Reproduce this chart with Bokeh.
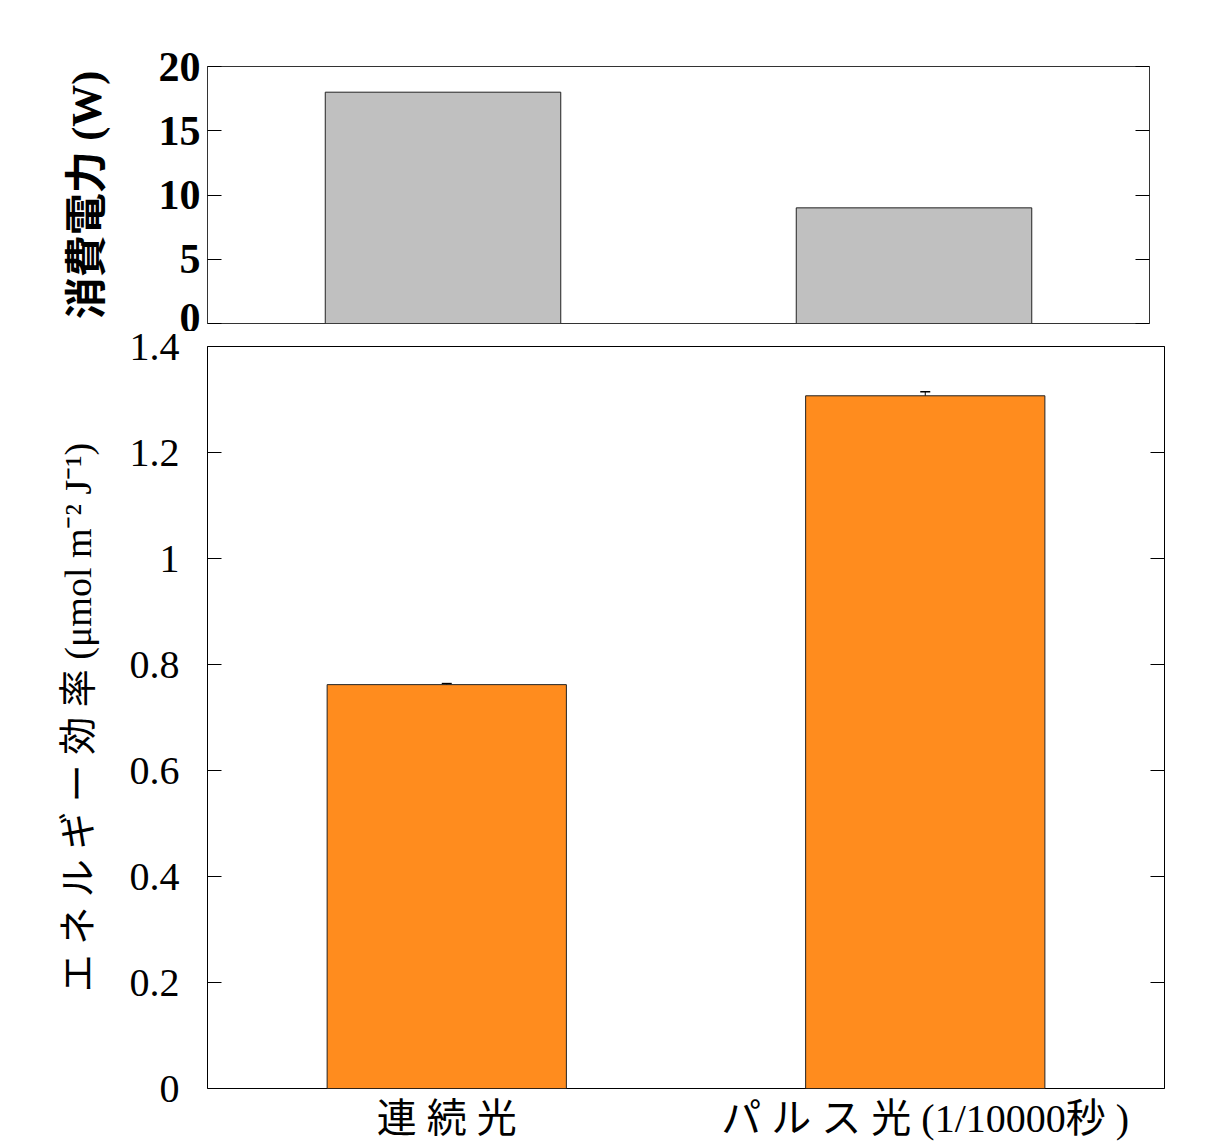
from bokeh.plotting import figure
from bokeh.models import (ColumnDataSource, FactorRange, Range1d, LinearAxis, FixedTicker,
                          Whisker, TeeHead, CustomLabelingPolicy)
from bokeh.layouts import column
from bokeh.embed import file_html
from bokeh.resources import INLINE

# ---- data ----
categories = ["連 続 光", "パ ル ス 光 (1/10000秒 )"]
power_w = [18, 9]
efficiency = [0.762, 1.307]
efficiency_err = [0.002, 0.0075]
power_ticks = [0, 5, 10, 15, 20]
eff_ticks = [0, 0.2, 0.4, 0.6, 0.8, 1.0, 1.2, 1.4]

SERIF = "Liberation Serif"
MIXED = "Liberation Serif, Noto Sans CJK JP"

no_labels = CustomLabelingPolicy(code="return new Set()")

# ---- top chart: power consumption ----
top = figure(x_range=FactorRange(*categories), y_range=Range1d(0, 20),
             width=1168, height=331, output_backend="svg", toolbar_location=None,
             min_border_left=203, min_border_right=19, min_border_top=66, min_border_bottom=8)
top.vbar(x=categories, top=power_w, width=0.5, fill_color="#C0C0C0", line_color="#222222", line_width=1)
top.xaxis.visible = False
top.grid.visible = False
top.outline_line_color = "#333333"
top.outline_line_width = 1
ya = top.yaxis[0]
ya.ticker = FixedTicker(ticks=power_ticks)
ya.minor_tick_line_color = None
ya.major_tick_in = 14
ya.major_tick_out = 0
ya.axis_line_color = None
ya.major_label_text_font = SERIF
ya.major_label_text_font_style = "bold"
ya.major_label_text_font_size = "42px"
ya.major_label_text_color = "black"
ya.major_label_standoff = 7
ya.axis_label = "消費電力 (W)"
ya.axis_label_text_font = MIXED
ya.axis_label_text_font_style = "bold"
ya.axis_label_text_font_size = "42px"
ya.axis_label_text_color = "black"
ya.axis_label_standoff = 46
ra = LinearAxis(ticker=FixedTicker(ticks=power_ticks), major_tick_in=14, major_tick_out=0,
                minor_tick_line_color=None, axis_line_color=None,
                major_label_policy=no_labels, major_label_standoff=0)
top.add_layout(ra, "right")

# ---- bottom chart: energy efficiency ----
src = ColumnDataSource(data=dict(
    x=categories, top=efficiency,
    upper=[v + e for v, e in zip(efficiency, efficiency_err)],
    lower=[v - e for v, e in zip(efficiency, efficiency_err)],
))
bot = figure(x_range=FactorRange(*categories), y_range=Range1d(0, 1.4),
             width=1183, height=812, output_backend="svg", toolbar_location=None,
             min_border_left=207, min_border_right=19, min_border_top=15, min_border_bottom=55)
bot.vbar(x="x", top="top", width=0.5, source=src, fill_color="#FF8C1E", line_color="#222222", line_width=1)
wh = Whisker(source=src, base="x", upper="upper", lower="lower", line_color="black", line_width=1,
             upper_head=TeeHead(size=10, line_color="black", line_width=1.5),
             lower_head=TeeHead(size=10, line_color="black", line_width=1.5))
bot.add_layout(wh)
bot.grid.visible = False
bot.outline_line_color = "black"
bot.outline_line_width = 1
by = bot.yaxis[0]
by.ticker = FixedTicker(ticks=eff_ticks)
by.major_label_overrides = {1.0: "1", 0: "0"}
by.minor_tick_line_color = None
by.major_tick_in = 14
by.major_tick_out = 0
by.axis_line_color = None
by.major_label_text_font = SERIF
by.major_label_text_font_size = "40px"
by.major_label_text_color = "black"
by.major_label_standoff = 28
by.axis_label = "エ ネ ル ギ ー 効 率 (μmol m⁻² J⁻¹)"
by.axis_label_text_font = MIXED
by.axis_label_text_font_style = "normal"
by.axis_label_text_font_size = "38px"
by.axis_label_text_color = "black"
by.axis_label_standoff = 28
bra = LinearAxis(ticker=FixedTicker(ticks=eff_ticks), major_tick_in=14, major_tick_out=0,
                 minor_tick_line_color=None, axis_line_color=None,
                 major_label_policy=no_labels, major_label_standoff=0)
bot.add_layout(bra, "right")
bx = bot.xaxis[0]
bx.axis_line_color = None
bx.major_tick_line_color = None
bx.minor_tick_line_color = None
bx.major_label_text_font = MIXED
bx.major_label_text_font_size = "40px"
bx.major_label_text_color = "black"
bx.major_label_standoff = 1
bx.major_label_overrides = {categories[0]: categories[0] + "\u00a0\u00a0\u00a0\u00a0",
                            categories[1]: "\u00a0" + categories[1]}

layout = column(top, bot, spacing=0)
open("out.html", "w").write(file_html(layout, INLINE))
